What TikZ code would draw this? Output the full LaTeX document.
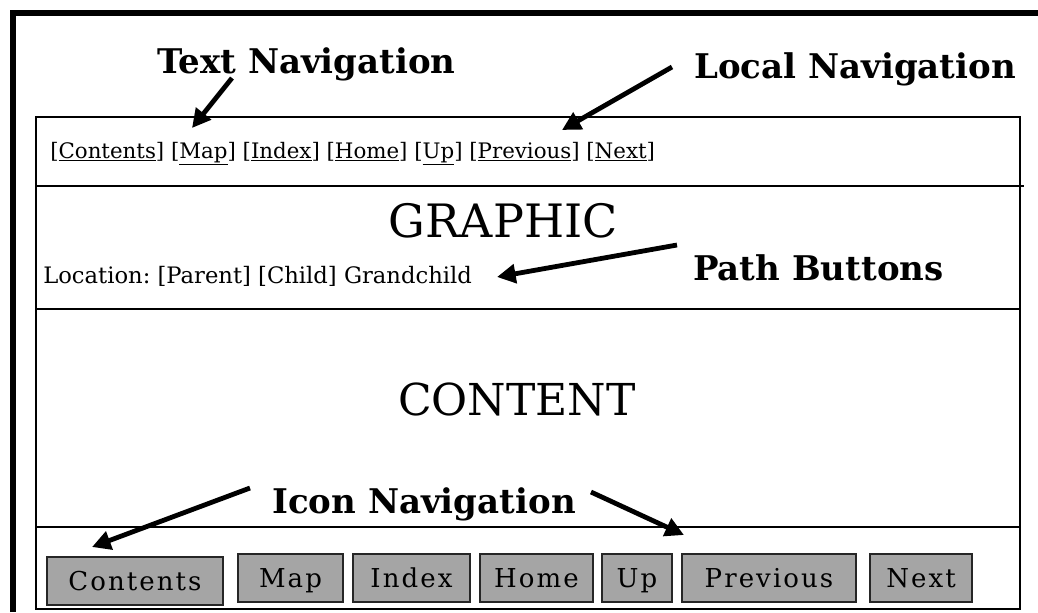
\documentclass[tikz,border=0pt]{standalone}
\usepackage{fontspec}
\setmainfont{DejaVu Serif}
\newfontfamily\btnfont[LetterSpace=8]{DejaVu Serif}
\usetikzlibrary{arrows.meta}
\definecolor{btngray}{RGB}{165,165,165}
\frenchspacing
\tikzset{
  frameline/.style={line width=4.5pt, line cap=butt},
  boxline/.style={line width=1.1pt},
  label/.style={inner sep=0pt, anchor=base west, font=\bfseries\fontsize{25.5}{28}\selectfont},
  bigword/.style={inner sep=0pt, anchor=base, font=\fontsize{33}{36}\selectfont},
  smalltext/.style={inner sep=0pt, anchor=base west},
  navbtn/.style={draw=black!85, line width=1.5pt, fill=btngray, inner sep=0pt,
    text height=16pt, text depth=2pt, minimum height=36pt,
    font=\btnfont\fontsize{19.5}{22}\selectfont},
  pointer/.style={line width=3.6pt, -{Triangle[length=14pt,width=14pt]}},
}
\begin{document}
\begin{tikzpicture}[x=0.75pt,y=-0.75pt]
\useasboundingbox (0,0) rectangle (1038,612);
% outer thick frame
\draw[frameline] (13,612) -- (13,13) -- (1038,13);
% inner box and bands
\draw[boxline] (36,117) rectangle (1020,609);
\draw[boxline] (36,186) -- (1024,186);
\draw[boxline] (36,309) -- (1020,309);
\draw[boxline] (36,527) -- (1020,527);

% labels
\node[label] (textnav) at (157,73) {Text Navigation};
\node[label] (localnav) at (694,78) {Local Navigation};
\node[label] (pathbtn) at (693,280) {Path Buttons};
\node[label] (iconnav) at (272,513) {Icon Navigation};

% text navigation row
\node[smalltext, font=\fontsize{16}{18}\selectfont] (navrow) at (50,158)
  {[\underline{Contents}] [\underline{Map}] [\underline{Index}] [\underline{Home}] [\underline{Up}] [\underline{Previous}] [\underline{Next}]};

% graphic band
\node[bigword, font=\fontsize{34.5}{37}\selectfont] (graphic) at (503,237) {GRAPHIC};
\node[smalltext, font=\fontsize{17}{19}\selectfont] (location) at (43,283)
  {Location: [Parent] [Child] Grandchild};

% content
\node[bigword] (content) at (517,415) {CONTENT};

% buttons
\node[navbtn, minimum width=176*0.75pt] (bcontents) at (135,581) {Contents};
\node[navbtn, minimum width=105*0.75pt] (bmap) at (290.5,578) {Map};
\node[navbtn, minimum width=117*0.75pt] (bindex) at (411.5,578) {Index};
\node[navbtn, minimum width=113*0.75pt] (bhome) at (536.5,578) {Home};
\node[navbtn, minimum width=70*0.75pt] (bup) at (637,578) {Up};
\node[navbtn, minimum width=174*0.75pt] (bprev) at (769,578) {Previous};
\node[navbtn, minimum width=102*0.75pt] (bnext) at (921,578) {Next};

% arrow end points
\coordinate (tnTail) at (232,78);
\coordinate (tnHead) at (192,128);
\coordinate (lnTail) at (672,67);
\coordinate (lnHead) at (562,130);
\coordinate (pbTail) at (677,245);
\coordinate (pbHead) at (497,277);
\coordinate (inTailL) at (250,488);
\coordinate (inHeadL) at (92,547);
\coordinate (inTailR) at (591,492);
\coordinate (inHeadR) at (684,535);

\draw[pointer] (tnTail) -- (tnHead);
\draw[pointer] (lnTail) -- (lnHead);
\draw[pointer] (pbTail) -- (pbHead);
\draw[pointer] (inTailL) -- (inHeadL);
\draw[pointer] (inTailR) -- (inHeadR);
\end{tikzpicture}
\end{document}
